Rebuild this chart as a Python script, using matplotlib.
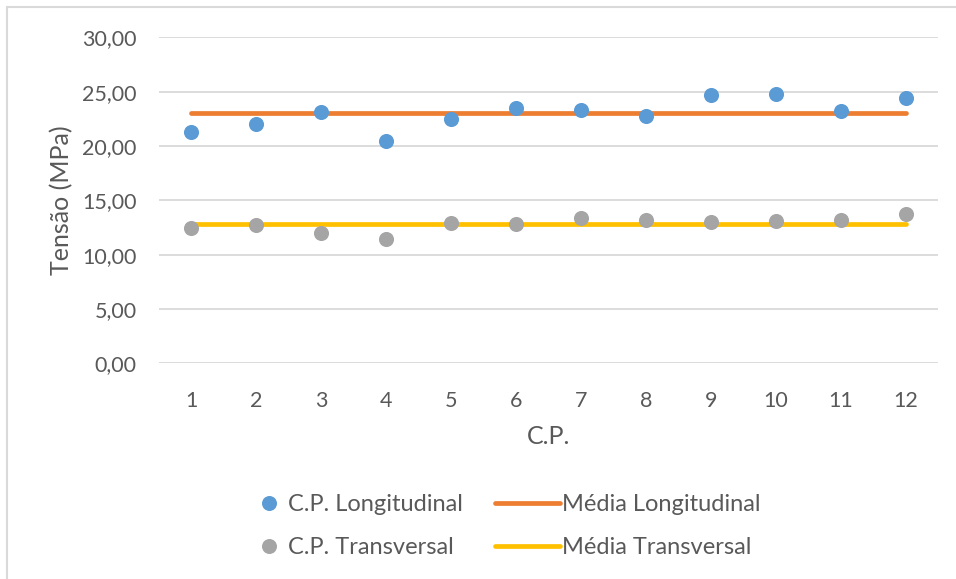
import matplotlib.pyplot as plt
from matplotlib.lines import Line2D
from matplotlib.patches import Rectangle
import numpy as np

plt.rcParams['font.family'] = ['Lato', 'DejaVu Sans']

# ensaios (corpos de prova)
cp = np.arange(1, 13)
tensao_long = [21.31, 22.01, 23.12, 20.45, 22.45, 23.49, 23.28, 22.72, 24.71, 24.75, 23.24, 24.41]
tensao_trans = [12.42, 12.72, 11.99, 11.44, 12.88, 12.79, 13.34, 13.16, 12.97, 13.12, 13.16, 13.71]
media_long = [23.00] * 12
media_trans = [12.81] * 12

cor_long = '#5b9bd5'
cor_trans = '#a5a5a5'
cor_mlong = '#ed7d31'
cor_mtrans = '#ffc000'
cinza_txt = '#595959'

fig = plt.figure(figsize=(9.56, 5.79), dpi=100)
ax = fig.add_axes([0.166, 0.3725, 0.8155, 0.5631])

ax.plot(cp, media_long, color=cor_mlong, lw=3.4, solid_capstyle='round', zorder=2)
ax.plot(cp, media_trans, color=cor_mtrans, lw=3.4, solid_capstyle='round', zorder=2)
ax.scatter(cp, tensao_long, s=118, color=cor_long, zorder=3, linewidths=0)
ax.scatter(cp, tensao_trans, s=118, color=cor_trans, zorder=3, linewidths=0)

ax.set_xlim(0.5, 12.5)
ax.set_ylim(0, 30)
ax.set_xticks(cp)
ax.set_yticks(np.arange(0, 31, 5))
ax.set_yticklabels([f'{v:.2f}'.replace('.', ',') for v in np.arange(0, 31, 5)])
ax.tick_params(length=0, labelsize=15.5, colors=cinza_txt, pad=16)
ax.tick_params(axis='x', pad=20)
ax.grid(axis='y', color='#d9d9d9', lw=1.3)
ax.set_axisbelow(True)
for s in ax.spines.values():
    s.set_visible(False)

ax.set_ylabel('Tensão (MPa)', fontsize=18, color=cinza_txt, labelpad=6)
ax.set_xlabel('C.P.', fontsize=18, color=cinza_txt, labelpad=10)

# moldura do gráfico
fig.patches.append(Rectangle((0.0075, -0.2), 1.5, 1.188, transform=fig.transFigure,
                             fill=False, edgecolor='#d9d9d9', lw=1.5))

pontos = [Line2D([], [], marker='o', ls='none', markersize=10.8, color=cor_long, markeredgewidth=0),
          Line2D([], [], marker='o', ls='none', markersize=10.8, color=cor_trans, markeredgewidth=0)]
linhas = [Line2D([], [], color=cor_mlong, lw=3.4, solid_capstyle='round'),
          Line2D([], [], color=cor_mtrans, lw=3.4, solid_capstyle='round')]

leg1 = fig.legend(pontos, ['C.P. Longitudinal', 'C.P. Transversal'], loc='center left',
                  bbox_to_anchor=(0.247, 0.0915), frameon=False, fontsize=17,
                  handlelength=1.0, handletextpad=0.3, labelspacing=0.93, labelcolor=cinza_txt)
leg2 = fig.legend(linhas, ['Média Longitudinal', 'Média Transversal'], loc='center left',
                  bbox_to_anchor=(0.4956, 0.0915), frameon=False, fontsize=17,
                  handlelength=2.75, handletextpad=0.08, labelspacing=0.93, labelcolor=cinza_txt)

fig.savefig('out.png', dpi=100)
